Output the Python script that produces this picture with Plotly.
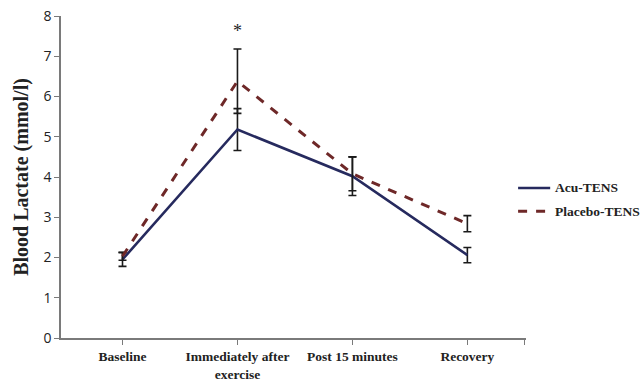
import plotly.graph_objects as go

# Time points and group means (mmol/l) with standard errors
timepoints = ["Baseline", "Immediately after<br>exercise", "Post 15 minutes", "Recovery"]
acu_mean = [1.95, 5.18, 4.02, 2.06]
acu_err = [0.17, 0.52, 0.48, 0.19]
placebo_mean = [2.03, 6.38, 4.08, 2.84]
placebo_err = [0.10, 0.80, 0.42, 0.20]
series_names = ["Acu-TENS", "Placebo-TENS"]
star_label = "*"
star_y = 7.62

xpos = list(range(len(timepoints)))
# an extra unlabelled tick closes the category axis on the right
tick_positions = xpos + [3.5]
tick_labels = [f"<b>{t}</b>" for t in timepoints] + [""]

styles = [
    dict(color="#262a5e", width=2.6, dash="solid"),
    dict(color="#6e2828", width=3, dash="dash"),
]

fig = go.Figure()
for name, mean, err, st in zip(series_names, [acu_mean, placebo_mean],
                               [acu_err, placebo_err], styles):
    fig.add_trace(go.Scatter(
        x=xpos, y=mean, mode="lines", name=name, showlegend=False,
        line=st,
        error_y=dict(type="data", array=err, visible=True, color="#1a1a1a",
                     thickness=1.6, width=4),
    ))

fig.add_annotation(x=1, y=star_y, text=star_label, showarrow=False,
                   font=dict(family="Liberation Serif", size=18, color="#222"))

# Key to the right of the plot area (paper coordinates)
key_y = [0.466, 0.394]
for name, st, ky in zip(series_names, styles, key_y):
    fig.add_shape(type="line", xref="paper", yref="paper",
                  x0=0.983, x1=1.052, y0=ky, y1=ky, line=st)
    fig.add_annotation(xref="paper", yref="paper", x=1.058, y=ky,
                       xanchor="left", yanchor="middle", showarrow=False,
                       text=f"<b>{name}</b>",
                       font=dict(family="Liberation Serif", size=13.5, color="#222"))

fig.update_layout(
    width=640, height=382,
    margin=dict(l=61, r=114, t=16, b=44),
    paper_bgcolor="white", plot_bgcolor="white",
    showlegend=False,
    xaxis=dict(
        range=[-0.535, 3.51], tickmode="array", tickvals=tick_positions,
        ticktext=tick_labels, automargin=False,
        showline=True, linecolor="#7a7a7a", linewidth=1.5,
        ticks="outside", ticklen=5, tickcolor="#7a7a7a",
        showgrid=False, zeroline=False,
        tickfont=dict(family="Liberation Serif", size=13.5, color="#222"),
    ),
    yaxis=dict(
        range=[0, 8], dtick=1, automargin=False,
        showline=True, linecolor="#7a7a7a", linewidth=1.5,
        ticks="outside", ticklen=5, tickcolor="#7a7a7a",
        showgrid=False, zeroline=False,
        tickfont=dict(family="Open Sans", size=14, color="#222"),
        title=dict(text="<b>Blood Lactate (mmol/l)</b>", standoff=9,
                   font=dict(family="Liberation Serif", size=20, color="#222")),
    ),
)

fig.write_html("out.html")
